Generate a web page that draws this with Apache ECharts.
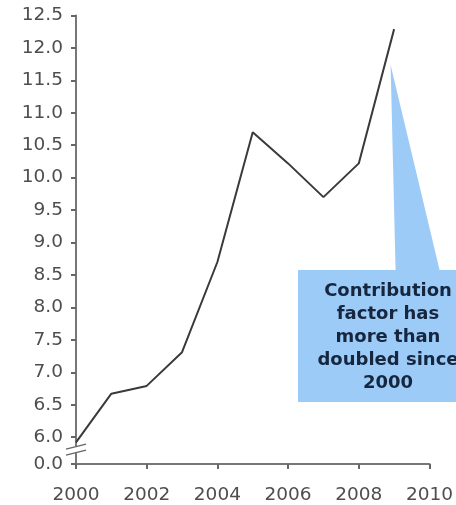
<!DOCTYPE html>
<html>
<head>
<meta charset="utf-8">
<script src="https://cdn.jsdelivr.net/npm/echarts@6/dist/echarts.min.js"></script>
<style>
html,body{margin:0;padding:0;background:#fff;}
#chart{width:456px;height:505px;}
</style>
</head>
<body>
<div id="chart"></div>
<script>
// Data
const years = [2000, 2001, 2002, 2003, 2004, 2005, 2006, 2007, 2008, 2009];
const values = [5.92, 6.67, 6.79, 7.31, 8.70, 10.70, 10.22, 9.70, 10.22, 12.29];
const yTickValues = [5.586, 6.0, 6.5, 7.0, 7.5, 8.0, 8.5, 9.0, 9.5, 10.0, 10.5, 11.0, 11.5, 12.0, 12.5];
const xTickValues = [2000, 2002, 2004, 2006, 2008, 2010];
const calloutLines = ['Contribution', 'factor has', 'more than', 'doubled since', '2000'];
const breakValue = 5.586; // shown as "0.0" (axis break)

const chart = echarts.init(document.getElementById('chart'), null, {renderer: 'canvas'});
const font = 'DejaVu Sans, Verdana, sans-serif';

const option = {
  backgroundColor: '#ffffff',
  animation: false,
  grid: {left: 76, right: 19, top: 15.5, bottom: 39, containLabel: false},
  xAxis: {
    type: 'value',
    min: 2000, max: 2010, interval: 2,
    axisLine: {show: true, lineStyle: {color: '#777', width: 2}},
    axisTick: {show: true, length: 5, lineStyle: {color: '#666', width: 2}},
    splitLine: {show: false},
    axisLabel: {
      color: '#4e4e4e', fontFamily: font, fontSize: 18.5, margin: 22,
      formatter: v => String(v)
    }
  },
  yAxis: {
    type: 'value',
    min: breakValue, max: 12.5,
    axisLine: {show: true, lineStyle: {color: '#777', width: 2}},
    axisTick: {show: true, length: 5, customValues: yTickValues, lineStyle: {color: '#666', width: 2}},
    splitLine: {show: false},
    axisLabel: {
      color: '#4e4e4e', fontFamily: font, fontSize: 18.5, margin: 13,
      customValues: yTickValues,
      formatter: v => (v < 5.9 ? '0.0' : v.toFixed(1))
    }
  },
  series: [{
    type: 'line',
    data: years.map((y, i) => [y, values[i]]),
    showSymbol: false,
    symbol: 'none',
    lineStyle: {color: '#3a3a3a', width: 2},
    z: 3
  }]
};
chart.setOption(option);

// Annotation + axis break marks
const apex = chart.convertToPixel({gridIndex: 0}, [2008.9, 11.74]);
const axisPt = chart.convertToPixel({gridIndex: 0}, [2000, 5.8]);
const ax = axisPt[0], by = axisPt[1];
chart.setOption({
  graphic: [
    {
      type: 'polygon',
      shape: {points: [[298, 270], [apex[0] + 5, 270], apex, [apex[0] + 49, 270], [460, 270], [460, 402], [298, 402]]},
      style: {fill: '#9dcbf8'},
      z: 10
    },
    {
      type: 'text',
      x: 388, y: 280,
      style: {
        text: calloutLines.join('\n'),
        fill: '#16263e',
        font: 'bold 18px ' + font,
        align: 'center',
        verticalAlign: 'top',
        lineHeight: 23
      },
      z: 11
    },
    {
      type: 'rect',
      shape: {x: ax - 6, y: by - 4, width: 12, height: 7},
      style: {fill: '#fff'},
      z: 12
    },
    {
      type: 'polyline',
      shape: {points: [[ax - 10, by - 1], [ax + 10, by - 6]]},
      style: {stroke: '#666', lineWidth: 1.5},
      z: 13
    },
    {
      type: 'polyline',
      shape: {points: [[ax - 10, by + 5], [ax + 10, by]]},
      style: {stroke: '#666', lineWidth: 1.5},
      z: 13
    }
  ]
});
</script>
</body>
</html>
